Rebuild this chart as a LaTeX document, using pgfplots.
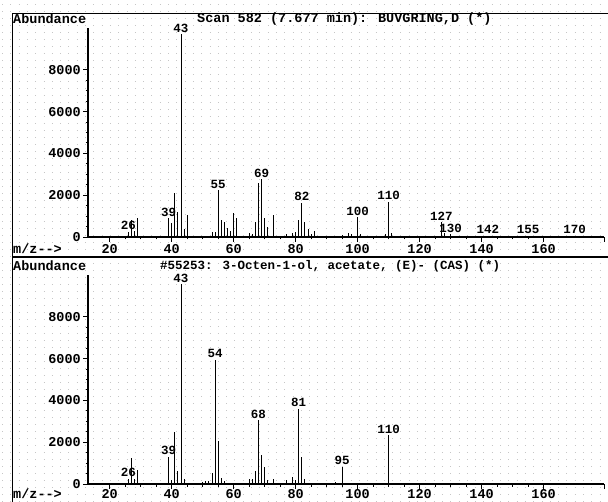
\documentclass[border=0pt]{standalone}
\usepackage{fontspec}
\setmainfont{Liberation Mono}
\usepackage{pgfplots}
\pgfplotsset{compat=1.18}

\newcommand\lab{\fontsize{13.5}{14}\selectfont\bfseries}
\newcommand\labs{\fontsize{12.5}{13}\selectfont\bfseries}

\pgfplotsset{
  msaxis/.style={
    scale only axis, width=516pt, height=209pt,
    xmin=13, xmax=179.5, ymin=0, ymax=10000,
    axis x line=bottom, axis y line=left,
    axis line style={-, line width=1.2pt},
    scaled x ticks=false, scaled y ticks=false,
    xtick={20,40,...,160}, xticklabels={20,40,60,80,100,120,140,160},
    ytick={0,2000,...,8000}, yticklabels={0,2000,4000,6000,8000},
    extra x ticks={179.5}, extra x tick labels={},
    minor x tick num=3, minor y tick num=3,
    tick align=outside,
    major tick length=5pt, minor tick length=2.5pt,
    every tick/.style={black, line width=0.9pt},
    tick label style={font=\lab, inner sep=2pt},
    clip=false,
  },
  peaks/.style={ycomb, black, line width=0.9pt},
  peaklab/.style={draw=none, nodes near coords, point meta=explicit symbolic,
    every node near coord/.append style={font=\labs, anchor=south, inner sep=1.5pt, black}},
}

\begin{document}
\begin{tikzpicture}
\path[use as bounding box] (0,0) rectangle (608pt,-502pt);

% dotted paper grid
\foreach \yy in {4,11,...,501}
  \draw[gray!45, line width=0.9pt, dash pattern=on 0.9pt off 7.4pt] (2pt,-\yy pt) -- (608pt,-\yy pt);

% frame
\draw[line width=1pt] (12pt,-502pt) -- (12pt,-14pt) -- (608pt,-14pt);
\draw[line width=1.6pt] (12pt,-257pt) -- (608pt,-257pt);

% top panel: sample spectrum
\begin{axis}[msaxis, at={(88pt,-237pt)}, anchor=south west]
\addplot[peaks] coordinates {
  (26,250) (27,820) (28,300) (29,900)
  (39,900) (40,650) (41,2100) (42,1200) (43,9700) (44,400) (45,1050)
  (53,250) (54,250) (55,2250) (56,800) (57,730) (58,430) (59,300) (60,1150) (61,900)
  (65,200) (66,150) (67,730) (68,2570) (69,2780) (70,900) (71,500) (73,1050)
  (77,150) (79,200) (80,250) (81,800) (82,1650) (83,700) (84,400) (85,150) (86,300)
  (95,100) (97,200) (98,150) (100,960) (101,150)
  (109,150) (110,1690) (111,200)
  (127,730) (128,200) (130,150) (142,70) (155,60) (170,60)
};
\addplot[peaklab] coordinates {
  (26,250)[26] (39,900)[39] (43,9700)[43] (55,2250)[55] (69,2780)[69]
  (82,1650)[82] (100,960)[100] (110,1690)[110] (127,730)[127]
  (130,150)[130] (142,70)[142] (155,60)[155] (170,60)[170]
};
\end{axis}

% bottom panel: library spectrum
\begin{axis}[msaxis, at={(88pt,-484pt)}, anchor=south west,
  xticklabel style={yshift=1.5pt}]
\addplot[peaks] coordinates {
  (26,250) (27,1240) (28,250) (29,680)
  (39,1300) (40,200) (41,2500) (42,600) (43,9570) (44,250)
  (50,100) (51,150) (52,150) (53,550) (54,5950) (55,2050) (56,300) (57,150)
  (65,250) (66,250) (67,600) (68,3050) (69,1380) (70,830) (71,200) (73,250)
  (77,200) (79,350) (80,200) (81,3600) (82,1300) (83,250)
  (93,100) (95,830) (110,2330)
};
\addplot[peaklab] coordinates {
  (26,250)[26] (39,1300)[39] (43,9570)[43] (54,5950)[54] (68,3050)[68]
  (81,3600)[81] (95,830)[95] (110,2330)[110]
};
\end{axis}

% headers
\node[anchor=west, inner sep=0pt, font=\lab] at (13pt,-19pt) {Abundance};
\node[anchor=west, inner sep=0pt, font=\lab] at (197pt,-19pt) {Scan 582 (7.677 min): BUVGRING,D (*)};
\node[anchor=west, inner sep=0pt, font=\lab] at (13pt,-249pt) {m/z-{}-{}>};
\node[anchor=west, inner sep=0pt, font=\lab] at (13pt,-266pt) {Abundance};
\node[anchor=west, inner sep=0pt, font=\labs] at (160pt,-266pt) {\#55253: 3-Octen-1-ol, acetate, (E)- (CAS) (*)};
\node[anchor=west, inner sep=0pt, font=\lab] at (13pt,-494pt) {m/z-{}-{}>};
\end{tikzpicture}
\end{document}
